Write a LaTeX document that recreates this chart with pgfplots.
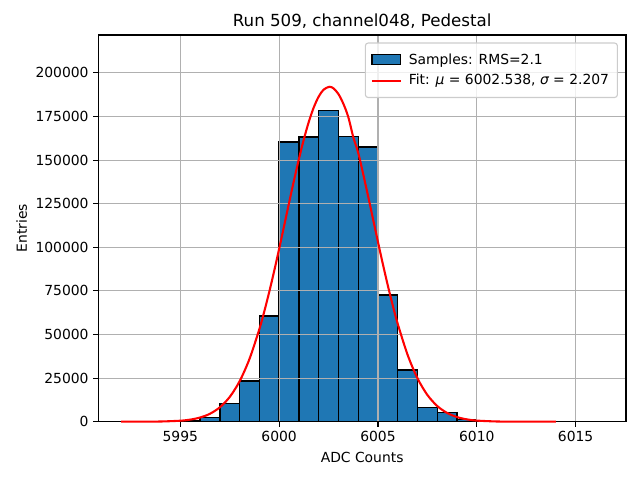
\documentclass[border=0pt]{standalone}
\usepackage{fontspec}
\setmainfont{DejaVu Sans}
\usepackage{pgfplots}
\pgfplotsset{compat=1.18}
\definecolor{cblue}{RGB}{31,119,180}
\definecolor{gridgray}{RGB}{176,176,176}
\definecolor{legedge}{RGB}{204,204,204}
\begin{document}
\begin{tikzpicture}
\begin{axis}[
  at={(0pt,0pt)}, anchor=south west,
  scale only axis, width=379.94pt, height=278.42pt,
  set layers=axis on top,
  xmin=5990.85, xmax=6017.55, ymin=0, ymax=221700,
  xtick={5995,6000,6005,6010,6015},
  ytick={0,25000,50000,75000,100000,125000,150000,175000,200000},
  scaled ticks=false,
  /pgf/number format/fixed, /pgf/number format/precision=0,
  /pgf/number format/1000 sep={},
  /pgf/number format/assume math mode=true,
  tick align=outside, major tick length=3.5pt,
  xtick pos=bottom, ytick pos=left,
  tick style={black, line width=0.8pt},
  axis line style={line width=0.8pt},
  grid=major, grid style={gridgray, line width=0.8pt},
  ticklabel style={font=\fontsize{10}{12}\selectfont},
  xlabel={ADC Counts}, ylabel={Entries},
  label style={font=\fontsize{10}{12}\selectfont},
  xlabel style={at={(axis description cs:0.5,-0.0913)}, anchor=center},
  ylabel style={at={(axis description cs:-0.1452,0.5)}, anchor=center},
  title={Run 509, channel048, Pedestal},
  title style={font=\fontsize{12}{14}\selectfont, at={(axis description cs:0.5,1.0134)}, anchor=center},
  legend cell align=left,
  legend style={at={(1,1)}, anchor=north east, xshift=-5.8pt, yshift=-5.4pt,
    draw=legedge, fill=white, fill opacity=0.8, text opacity=1,
    rounded corners=2pt, font=\fontsize{10}{12}\selectfont,
    inner xsep=4pt, inner ysep=5.5pt, row sep=2pt, line width=0.8pt},
]
\addplot[ybar, bar width=1, fill=cblue, draw=black, line width=1pt,
  legend image code/.code={\draw[sharp corners, opacity=1, fill opacity=1, fill=cblue, draw=black, line width=1pt] (0pt,-3.6pt) rectangle (20.5pt,3.6pt); \path[draw=none, fill=none] (0pt,0pt) -- (24.5pt,0pt);}]
coordinates {
(5995.5,700) (5996.5,2300) (5997.5,10550) (5998.5,23340) (5999.5,60600)
(6000.5,160400) (6001.5,163250) (6002.5,178550) (6003.5,163650) (6004.5,157500)
(6005.5,72650) (6006.5,29640) (6007.5,8260) (6008.5,5390) (6009.5,1380)
};
\addlegendentry{Samples: RMS=2.1}
\addplot[red, line width=1.5pt, smooth, on layer=axis foreground,
  legend image code/.code={\draw[sharp corners, opacity=1, red, line width=1.5pt] (0pt,0pt) -- (21pt,0pt); \path[draw=none, fill=none] (0pt,0pt) -- (24.5pt,0pt);}]
coordinates {
(5992,2) (5993,17) (5994,108) (5995,563) (5995.5,1188) (5996,2386) (5996.5,4553)
(5997,8242) (5997.5,14189) (5998,23186) (5998.5,35998) (5999,53116) (5999.25,63287)
(5999.5,74440) (5999.75,86452) (6000,99118) (6000.25,112182) (6000.5,125353)
(6000.75,138282) (6001,150616) (6001.25,161935) (6001.5,171897) (6001.75,180144)
(6002,186380) (6002.25,190372) (6002.538,192000) (6002.75,191117) (6003,187839)
(6003.25,182264) (6003.5,174599) (6003.75,163206) (6004,154172) (6004.25,142115)
(6004.5,129333) (6004.75,116189) (6005,103061) (6005.25,90244) (6005.5,78015)
(6005.75,66582) (6006,56102) (6006.5,38322) (6007,24872) (6007.5,15335)
(6008,8980) (6008.5,4998) (6009,2642) (6009.5,1326) (6010,633) (6011,123)
(6012,20) (6013,3) (6014,0)
};
\addlegendentry{Fit: {\itshape μ} = 6002.538, {\itshape σ} = 2.207}
\end{axis}
\pgfresetboundingbox
\path[use as bounding box] (-70.78pt,-41.98pt) rectangle (390.02pt,303.62pt);
\end{tikzpicture}
\end{document}
